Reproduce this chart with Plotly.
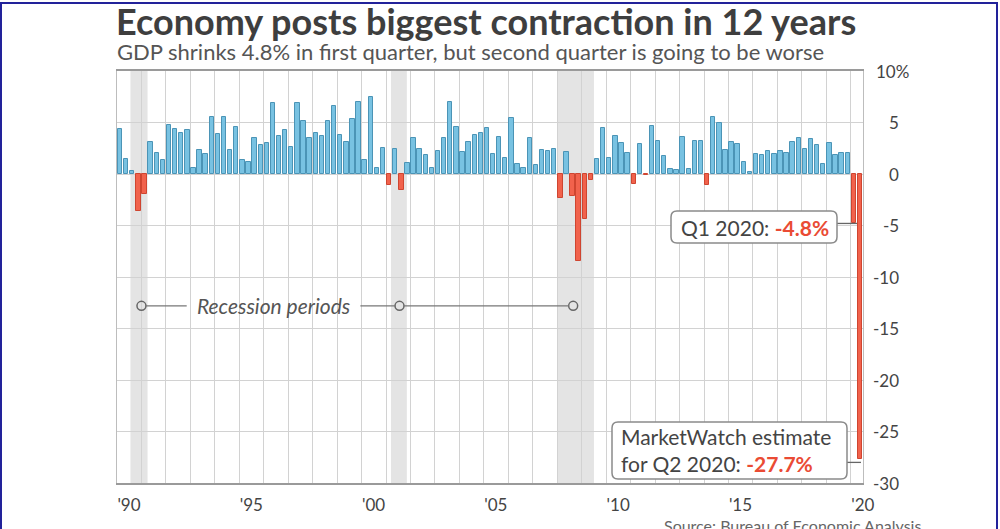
import plotly.graph_objects as go

# ---------------- data ----------------
years = list(range(1990, 2021))
quarters = ["Q1", "Q2", "Q3", "Q4"]
gdp_growth = [
    4.4, 1.5, 0.3, -3.6,    # 1990
    -1.9, 3.1, 2.0, 1.4,    # 1991
    4.8, 4.4, 4.0, 4.3,     # 1992
    0.6, 2.3, 1.9, 5.5,     # 1993
    3.9, 5.5, 2.3, 4.6,     # 1994
    1.4, 1.2, 3.5, 2.8,     # 1995
    3.0, 6.9, 3.7, 4.3,     # 1996
    2.6, 6.9, 5.1, 3.5,     # 1997
    4.0, 3.7, 5.1, 6.6,     # 1998
    3.8, 3.1, 5.3, 7.0,     # 1999
    1.4, 7.5, 0.6, 2.5,     # 2000
    -1.1, 2.4, -1.6, 1.1,   # 2001
    3.5, 2.4, 1.8, 0.6,     # 2002
    2.2, 3.5, 7.0, 4.6,     # 2003
    2.1, 3.1, 3.8, 4.0,     # 2004
    4.5, 1.9, 3.6, 1.6,     # 2005
    5.4, 1.0, 0.6, 3.5,     # 2006
    0.9, 2.3, 2.2, 2.4,     # 2007
    -2.3, 2.1, -2.1, -8.4,  # 2008
    -4.4, -0.6, 1.5, 4.5,   # 2009
    1.6, 3.7, 3.0, 2.0,     # 2010
    -1.0, 2.9, -0.1, 4.7,   # 2011
    3.2, 1.7, 0.5, 0.4,     # 2012
    3.6, 0.5, 3.2, 3.2,     # 2013
    -1.1, 5.5, 5.0, 2.3,    # 2014
    3.1, 2.9, 1.2, 0.2,     # 2015
    1.9, 1.8, 2.2, 1.9,     # 2016
    2.2, 2.0, 3.1, 3.5,     # 2017
    2.4, 3.4, 2.8, 1.0,     # 2018
    3.0, 1.8, 2.0, 2.0,     # 2019
    -4.8, -27.7,            # 2020
]
recessions = [(1990.55, 1991.25), (2001.2, 2001.85), (2008.0, 2009.5)]
recession_markers = [1991.0, 2001.55, 2008.65]
x_tick_years = [1990, 1995, 2000, 2005, 2010, 2015, 2020]
x_tick_text = ["'90", "'95", "'00", "'05", "'10", "'15", "'20"]
y_tick_vals = [10, 5, 0, -5, -10, -15, -20, -25, -30]
y_tick_text = ["10%", "5", "0", "-5", "-10", "-15", "-20", "-25", "-30"]
title = "Economy posts biggest contraction in 12 years"
subtitle = "GDP shrinks 4.8% in first quarter, but second quarter is going to be worse"
source = "Source: Bureau of Economic Analysis"

# ---------------- layout helpers ----------------
W, H = 1000, 529
L, R, T, B = 117, 863, 71, 483
def px(xp):
    return (xp - L) / (R - L)
def py(yp):
    return (B - yp) / (B - T)

FONT = "Lato, 'Open Sans', sans-serif"
BLUE, BLUE_EDGE = "#78c2e2", "#4b94b6"
RED, RED_EDGE = "#f1624c", "#cf4530"

n = len(gdp_growth)
xpos = [1990 + i * 0.25 + 0.125 for i in range(n)]
fills = [BLUE if v >= 0 else RED for v in gdp_growth]
edges = [BLUE_EDGE if v >= 0 else RED_EDGE for v in gdp_growth]
labels = [f"{1990 + i // 4} {quarters[i % 4]}" for i in range(n)]

fig = go.Figure()
fig.add_trace(go.Bar(
    x=xpos, y=gdp_growth, width=0.18, text=labels, hoverinfo="text+y",
    textposition="none",
    marker=dict(color=fills, line=dict(color=edges, width=1)),
    showlegend=False,
))

# recession marker circles
rec_y = -12.8
fig.add_trace(go.Scatter(
    x=recession_markers, y=[rec_y] * len(recession_markers), mode="markers",
    marker=dict(symbol="circle-open", size=9, color="#666", line=dict(width=1.5, color="#666")),
    hoverinfo="skip", showlegend=False,
))

shapes = []
for a, b in recessions:
    shapes.append(dict(type="rect", xref="x", yref="paper", x0=a, x1=b, y0=0, y1=1,
                       fillcolor="#e4e4e4", line=dict(width=0), layer="below"))
# recession legend lines
line_style = dict(color="#777", width=1.3)
shapes.append(dict(type="line", xref="x", yref="y", x0=recession_markers[0] + 0.17, x1=1992.85,
                   y0=rec_y, y1=rec_y, line=line_style))
shapes.append(dict(type="line", xref="x", yref="y", x0=1999.95, x1=recession_markers[1] - 0.17,
                   y0=rec_y, y1=rec_y, line=line_style))
shapes.append(dict(type="line", xref="x", yref="y", x0=recession_markers[1] + 0.17,
                   x1=recession_markers[2] - 0.17, y0=rec_y, y1=rec_y, line=line_style))

def rounded_box(x0, y0, x1, y1, r=6):
    # pixel coords -> paper path with rounded corners
    X0, X1 = px(x0), px(x1)
    Y0, Y1 = py(y1), py(y0)  # bottom, top in paper
    rx = r / (R - L)
    ry = r / (B - T)
    path = (f"M {X0+rx},{Y1} L {X1-rx},{Y1} Q {X1},{Y1} {X1},{Y1-ry} "
            f"L {X1},{Y0+ry} Q {X1},{Y0} {X1-rx},{Y0} L {X0+rx},{Y0} "
            f"Q {X0},{Y0} {X0},{Y0+ry} L {X0},{Y1-ry} Q {X0},{Y1} {X0+rx},{Y1} Z")
    return dict(type="path", xref="paper", yref="paper", path=path,
                fillcolor="white", line=dict(color="#8a8a8a", width=1.5), layer="above")

q1_val, q2_val = gdp_growth[-2], gdp_growth[-1]
# connectors
shapes.append(dict(type="line", xref="paper", yref="y", x0=px(837), x1=px(857),
                   y0=q1_val, y1=q1_val, line=dict(color="#666", width=1.3), layer="above"))
shapes.append(dict(type="line", xref="paper", yref="y", x0=px(847), x1=px(861),
                   y0=q2_val - 0.3, y1=q2_val - 0.3, line=dict(color="#666", width=1.3), layer="above"))
shapes.append(rounded_box(671, 211, 837, 243))
shapes.append(rounded_box(612, 422, 847, 479))

# outer frame
shapes.append(dict(type="rect", xref="paper", yref="paper", x0=px(1), x1=px(997),
                   y0=py(540), y1=py(3), line=dict(color="#22229a", width=2), fillcolor="rgba(0,0,0,0)",
                   layer="above"))

annotations = []
annotations.append(dict(xref="paper", yref="paper", x=px(114), y=py(21), xanchor="left", yanchor="middle",
                        text=f"<b>{title}</b>", showarrow=False,
                        font=dict(family=FONT, size=36, color="#3e3e3e", weight=900)))
annotations.append(dict(xref="paper", yref="paper", x=px(115), y=py(51), xanchor="left", yanchor="middle",
                        text=subtitle, showarrow=False,
                        font=dict(family=FONT, size=22, color="#555")))
for v, t in zip(y_tick_vals, y_tick_text):
    if t.endswith("%"):
        annotations.append(dict(xref="paper", yref="y", x=px(874), y=v, xanchor="left", yanchor="middle",
                                text=t, showarrow=False, font=dict(family=FONT, size=17, color="#444")))
    else:
        annotations.append(dict(xref="paper", yref="y", x=px(901), y=v, xanchor="right", yanchor="middle",
                                text=t, showarrow=False, font=dict(family=FONT, size=17, color="#444")))
annotations.append(dict(xref="x", yref="y", x=1996.38, y=rec_y, xanchor="center", yanchor="middle",
                        text="<i>Recession periods</i>", showarrow=False,
                        font=dict(family=FONT, size=21, color="#555")))
annotations.append(dict(xref="paper", yref="paper", x=px(679), y=py(227), xanchor="left", yanchor="middle",
                        text=f"Q1 2020: <span style='color:#ea4b34'><b>{q1_val}%</b></span>",
                        showarrow=False, font=dict(family=FONT, size=21, color="#444")))
annotations.append(dict(xref="paper", yref="paper", x=px(619), y=py(450), xanchor="left", yanchor="middle",
                        align="left",
                        text=f"MarketWatch estimate<br>for Q2 2020: <span style='color:#ea4b34'><b>{q2_val}%</b></span>",
                        showarrow=False, font=dict(family=FONT, size=21, color="#444")))
annotations.append(dict(xref="paper", yref="paper", x=px(662), y=py(514), xanchor="left", yanchor="top",
                        text=source, showarrow=False, font=dict(family=FONT, size=16, color="#666")))

fig.update_layout(
    width=W, height=H,
    margin=dict(l=L, r=W - R, t=T, b=H - B, pad=0),
    paper_bgcolor="white", plot_bgcolor="white",
    font=dict(family=FONT, color="#444"),
    bargap=0,
    shapes=shapes, annotations=annotations,
    xaxis=dict(range=[1990, 2020.5], tickvals=x_tick_years, ticktext=x_tick_text,
               ticklabelshift=12, ticklabelstandoff=6,
               tickfont=dict(family=FONT, size=17, color="#444"),
               showgrid=True, gridcolor="#d2d2d2", gridwidth=1,
               minor=dict(dtick=1, tick0=1990, showgrid=True, gridcolor="#d2d2d2", gridwidth=1),
               showline=True, linecolor="#9a9a9a", linewidth=1.5, mirror=True,
               ticks="", zeroline=False, fixedrange=True),
    yaxis=dict(range=[-30, 10], tickvals=y_tick_vals, showticklabels=False,
               showgrid=True, gridcolor="#d2d2d2", gridwidth=1,
               showline=True, linecolor="#bdbdbd", linewidth=1, mirror=True,
               zeroline=False, ticks="", fixedrange=True),
)

fig.write_html("out.html")
